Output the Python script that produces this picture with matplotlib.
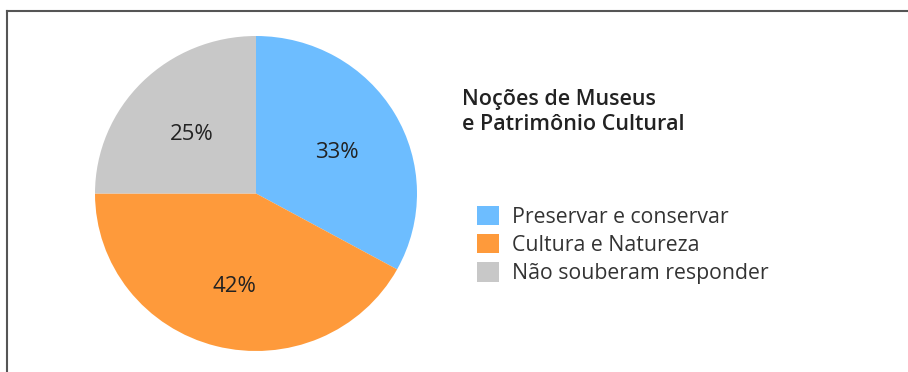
import matplotlib
matplotlib.use('Agg')
import matplotlib.pyplot as plt
from matplotlib.lines import Line2D

# dados
labels = ['Preservar e conservar', 'Cultura e Natureza', 'Não souberam responder']
values = [33, 42, 25]
colors = ['#6DBDFF', '#FE9A3B', '#C8C8C8']
title = 'Noções de Museus\ne Patrimônio Cultural'

plt.rcParams['font.family'] = ['Open Sans', 'DejaVu Sans']

W, H = 908, 372
fig = plt.figure(figsize=(W / 100, H / 100), dpi=100)

def px(x, y):
    # pixel (top-left origin) -> figure fraction
    return x / W, 1 - y / H

# eixo da pizza: x 95..417, y 36..351 (pixels)
ax = fig.add_axes([95 / W, 1 - 351 / H, 322 / W, 315 / H])
wedges, texts, autotexts = ax.pie(values, colors=colors, startangle=90, counterclock=False,
                                  autopct='%d%%', pctdistance=0.575,
                                  wedgeprops=dict(linewidth=0),
                                  textprops=dict(fontsize=16, color='#222222'))
for t in autotexts:
    x, y = t.get_position()
    t.set_position((x + 0.01, y - 0.035))
ax.set_aspect('auto')
ax.set_xlim(-1, 1)
ax.set_ylim(-1, 1)

# título
fig.text(*px(462, 112), title, fontsize=15.5, fontweight='semibold', color='#222222',
         ha='left', va='center', linespacing=1.25)

# legenda
leg = fig.legend(wedges, labels, loc='center left', bbox_to_anchor=px(477, 245),
                 frameon=False, fontsize=15.3, handlelength=1.03, handleheight=1.03,
                 handletextpad=0.6, labelspacing=0.3, borderpad=0, borderaxespad=0)
for t in leg.get_texts():
    t.set_color('#333333')

# moldura (só esquerda e topo visíveis)
fig.add_artist(Line2D([7 / W, 7 / W], [0, 1 - 10.5 / H], color='#555555', lw=1.5))
fig.add_artist(Line2D([7 / W, 1], [1 - 10.5 / H, 1 - 10.5 / H], color='#555555', lw=1.5))

fig.savefig('out.png', dpi=100, facecolor='white')
